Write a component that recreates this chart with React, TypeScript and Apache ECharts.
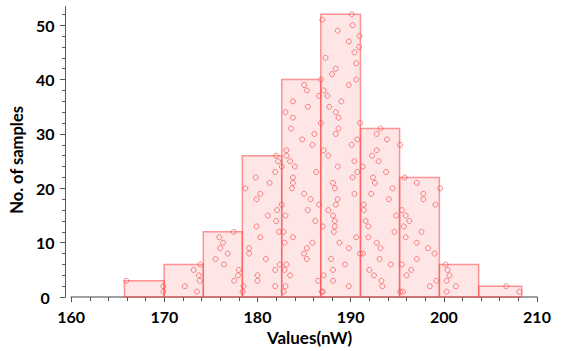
import React, { useEffect, useRef } from "react";
import * as echarts from "echarts";

// Histogram bins (edges in nW) and counts
const binEdges = [165.72, 169.98, 174.18, 178.37, 182.6, 186.79, 191.05, 195.25, 199.52, 203.74, 208.37];
const binCounts = [3, 6, 12, 26, 40, 52, 31, 22, 6, 2];

// Tick values
const xTickValues = [160, 170, 180, 190, 200, 210];
const yTickValues = [0, 10, 20, 30, 40, 50];

// Individual samples: [value (nW), level within its bin]
const bin1Points = [[165.9, 3], [169.9, 2], [169.9, 1]];
const bin2Points = [[172.2, 2], [173.15, 5], [173.5, 1], [173.7, 4], [173.8, 3], [173.86, 6]];
const bin3Points = [
  [175.9, 11], [176.3, 10], [176.0, 9], [176.8, 8], [175.5, 7], [176.4, 6],
  [177.45, 12], [178.0, 5], [177.9, 4], [177.5, 3], [178.5, 2], [178.4, 1],
];
const bin4Points = [
  [182.0, 26], [182.2, 25], [182.6, 24], [181.9, 23], [179.8, 22], [181.3, 21],
  [178.7, 20], [180.3, 19], [179.9, 18], [182.6, 17], [182.1, 16], [181.1, 15],
  [182.0, 14], [179.9, 13], [182.3, 12], [180.3, 11], [179.1, 9], [179.1, 8],
  [180.9, 7], [182.4, 6], [181.9, 5], [180.0, 4], [180.0, 3], [181.9, 2],
];
const bin5Points = [
  [186.8, 40], [185.0, 39], [185.3, 38], [186.6, 37], [183.8, 36], [185.4, 35],
  [183.0, 34], [183.8, 33], [186.8, 32], [183.6, 31], [186.1, 30], [184.8, 29],
  [185.9, 28], [183.1, 27], [183.1, 26], [183.5, 25], [184.0, 24], [186.3, 23],
  [183.8, 22], [183.8, 21], [183.7, 20], [185.0, 19], [185.7, 18], [186.6, 17],
  [185.4, 16], [183.0, 15], [186.2, 14], [182.8, 12], [183.8, 11], [182.9, 10],
  [185.9, 10], [185.3, 9], [185.0, 8], [185.3, 7], [183.1, 6], [182.9, 5],
  [183.5, 4], [186.5, 3], [183.0, 2], [182.8, 1],
];
const bin6Points = [
  [190.1, 52], [186.96, 51], [190.2, 50], [188.6, 49], [190.95, 48], [189.8, 47],
  [190.9, 46], [190.4, 45], [187.3, 44], [190.6, 43], [188.4, 42], [188.0, 41],
  [190.6, 40], [189.8, 39], [187.1, 38], [187.5, 37], [189.0, 36], [187.7, 35],
  [188.4, 34], [188.7, 33], [191.0, 32], [188.7, 31], [188.4, 30], [190.7, 29],
  [190.1, 28], [187.1, 27], [187.6, 26], [190.4, 25], [188.6, 24], [190.7, 23],
  [190.2, 22], [188.1, 21], [188.3, 20], [190.4, 19], [188.6, 18], [188.4, 17],
  [187.6, 16], [188.1, 15], [188.3, 14], [187.0, 13], [188.3, 13], [188.2, 12],
  [190.6, 11], [188.8, 10], [189.8, 9], [191.0, 8], [187.9, 7], [189.4, 6],
  [188.1, 5], [187.1, 4], [188.1, 3], [189.8, 2], [186.9, 1], [187.0, 1],
];
const bin7Points = [
  [193.2, 31], [192.8, 30], [193.9, 29], [195.3, 28], [192.8, 27], [192.3, 26],
  [193.0, 25], [191.3, 24], [193.8, 23], [192.4, 22], [192.6, 21], [194.5, 20],
  [192.2, 19], [194.1, 18], [191.4, 17], [191.4, 16], [194.9, 15], [191.6, 14],
  [191.9, 13], [194.7, 12], [191.9, 11], [192.8, 10], [193.2, 9], [191.3, 8],
  [193.1, 7], [194.3, 6], [192.0, 5], [192.5, 4], [193.3, 3], [193.4, 2], [195.3, 1],
];
const bin8Points = [
  [195.8, 22], [197.1, 21], [199.6, 20], [197.8, 19], [197.8, 18], [199.1, 17],
  [195.5, 16], [195.9, 15], [196.3, 14], [195.7, 13], [197.6, 12], [195.9, 11],
  [197.1, 10], [198.3, 9], [199.0, 8], [197.1, 7], [195.5, 6], [196.5, 5],
  [196.0, 4], [199.2, 3], [198.5, 2], [195.6, 1],
];
const bin9Points = [[200.2, 6], [200.4, 5], [200.6, 4], [200.3, 3], [201.3, 2], [200.3, 1]];
const bin10Points = [[206.7, 2], [208.1, 1]];

const FONT = "Lato, 'Open Sans', sans-serif";

export default function App() {
  const ref = useRef<HTMLDivElement>(null);

  useEffect(() => {
    if (!ref.current) return;
    document.body.style.margin = "0";
    const chart = echarts.init(ref.current, undefined, { renderer: "svg" });

    const barData = binCounts.map((c, i) => [binEdges[i], binEdges[i + 1], c]);
    const points = [
      ...bin1Points, ...bin2Points, ...bin3Points, ...bin4Points, ...bin5Points,
      ...bin6Points, ...bin7Points, ...bin8Points, ...bin9Points, ...bin10Points,
    ];

    chart.setOption({
      animation: false,
      backgroundColor: "#ffffff",
      grid: { left: 68, right: 25, top: 6.7, bottom: 48.3, containLabel: false },
      xAxis: {
        type: "value",
        min: 160,
        max: 210,
        interval: 10,
        offset: 4,
        name: "Values(nW)",
        nameLocation: "middle",
        nameGap: 26,
        nameTextStyle: {
          fontFamily: FONT,
          fontWeight: "bold",
          fontSize: 17,
          color: "#000",
          padding: [0, 0, 0, 11],
        },
        axisLine: { show: true, lineStyle: { color: "#a0a0a0", width: 2 } },
        axisTick: {
          show: true,
          length: 5,
          customValues: xTickValues,
          lineStyle: { color: "#555", width: 1 },
        },
        minorTick: { show: true, splitNumber: 5, length: 4, lineStyle: { color: "#555", width: 1 } },
        axisLabel: {
          customValues: xTickValues,
          margin: 7,
          fontFamily: FONT,
          fontWeight: "bold",
          fontSize: 16,
          color: "#000",
        },
        splitLine: { show: false },
      },
      yAxis: {
        type: "value",
        min: 0,
        max: 53.4,
        interval: 10,
        offset: 6,
        name: "No. of samples",
        nameLocation: "middle",
        nameGap: 29,
        nameRotate: 90,
        nameTextStyle: {
          fontFamily: FONT,
          fontWeight: "bold",
          fontSize: 16.5,
          color: "#000",
          padding: [0, 16, 0, 0],
        },
        axisLine: { show: true, lineStyle: { color: "#555", width: 1 } },
        axisTick: {
          show: true,
          length: 5,
          customValues: yTickValues,
          lineStyle: { color: "#555", width: 1 },
        },
        minorTick: { show: true, splitNumber: 5, length: 3, lineStyle: { color: "#555", width: 1 } },
        axisLabel: {
          customValues: yTickValues,
          align: "center",
          margin: 20,
          fontFamily: FONT,
          fontWeight: "bold",
          fontSize: 16,
          color: "#000",
        },
        splitLine: { show: false },
      },
      series: [
        {
          type: "custom",
          data: barData,
          encode: { x: [0, 1], y: 2 },
          renderItem: (params: any, api: any) => {
            const x0 = api.value(0);
            const x1 = api.value(1);
            const c = api.value(2);
            const tl = api.coord([x0, c]);
            const br = api.coord([x1, 0]);
            return {
              type: "rect",
              shape: { x: tl[0], y: tl[1], width: br[0] - tl[0], height: br[1] - tl[1] },
              style: {
                fill: "rgba(245, 90, 90, 0.15)",
                stroke: "rgba(255, 70, 70, 0.55)",
                lineWidth: 1.5,
              },
            };
          },
          z: 1,
        },
        {
          type: "scatter",
          data: points,
          symbol: "circle",
          symbolSize: 5,
          itemStyle: {
            color: "rgba(255,255,255,0)",
            borderColor: "rgba(240, 80, 80, 0.85)",
            borderWidth: 1,
          },
          z: 2,
        },
      ],
    });

    return () => chart.dispose();
  }, []);

  return <div ref={ref} style={{ width: 562, height: 351 }} />;
}
